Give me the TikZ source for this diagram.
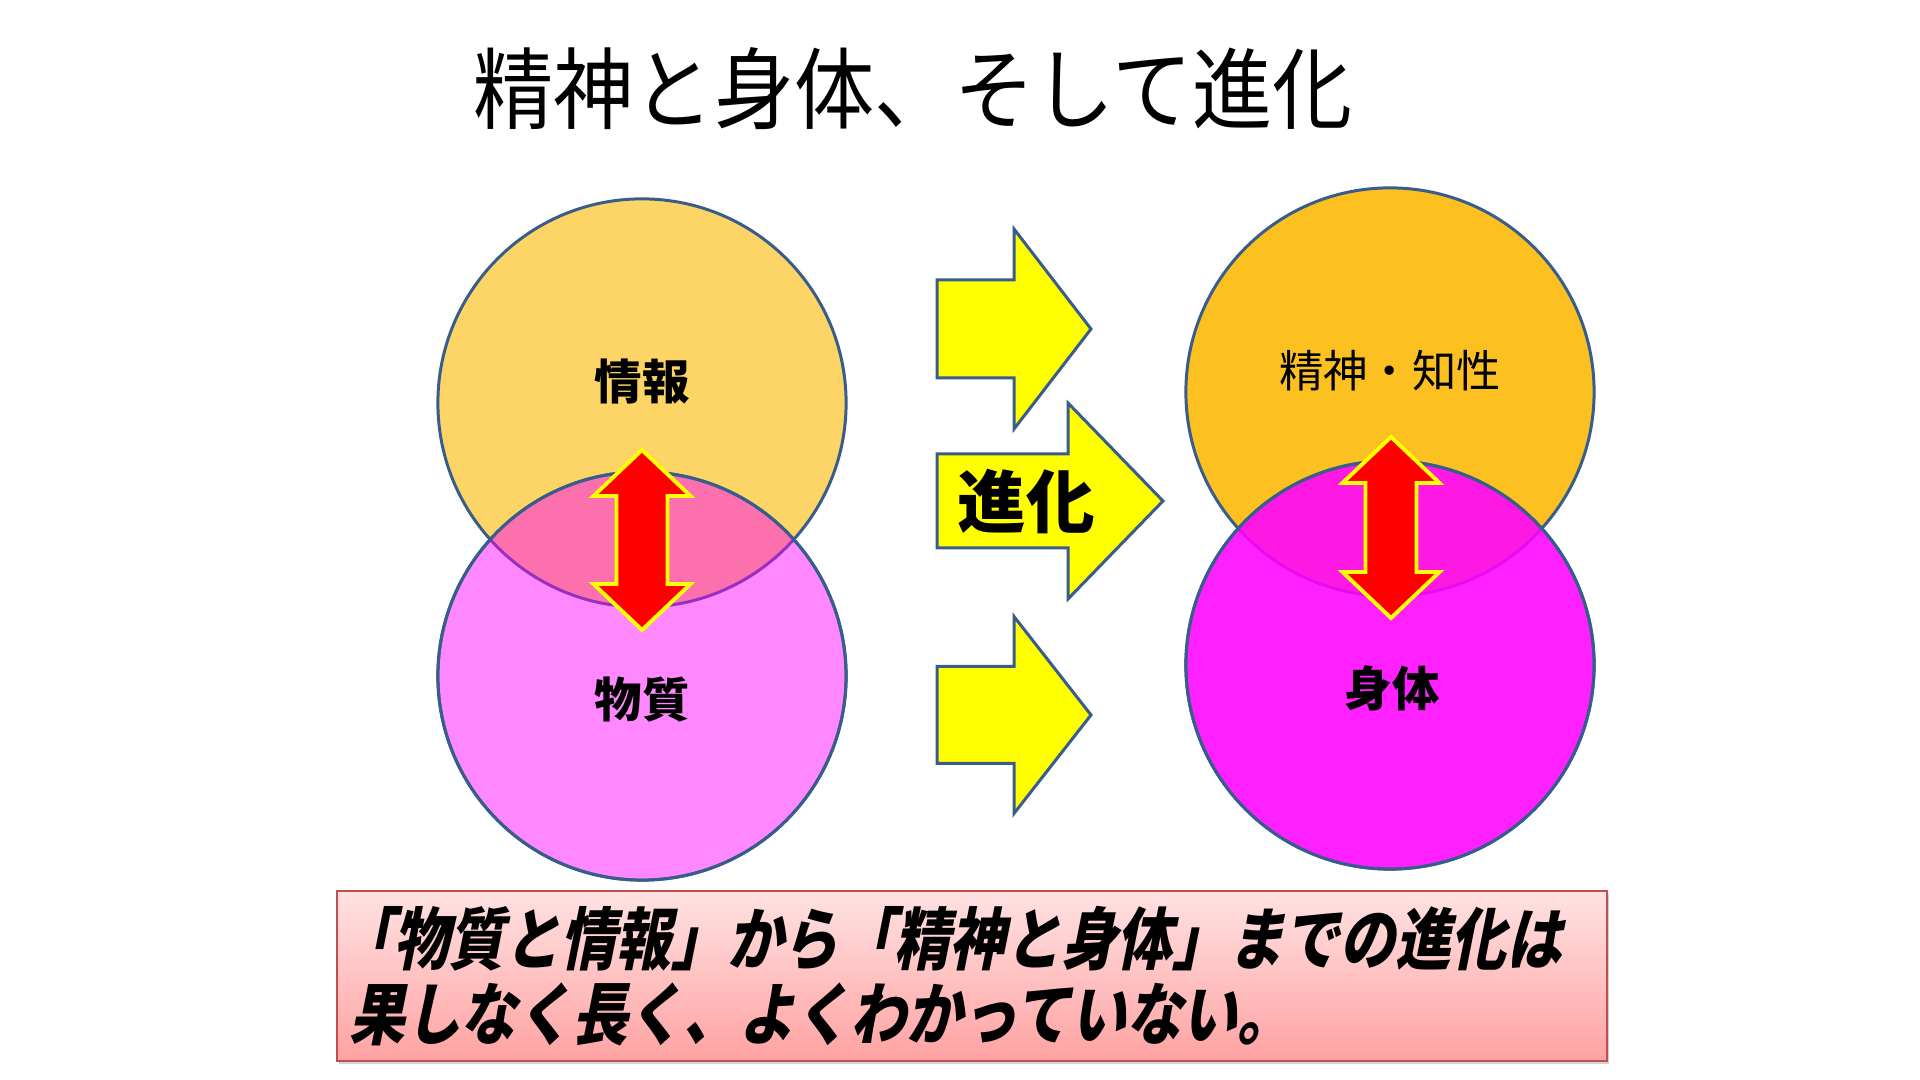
\documentclass[tikz,border=0pt]{standalone}
\usepackage{fontspec}
\usepackage{tikz}
\usetikzlibrary{shadows}
\newfontfamily\jpfont{Noto Sans CJK JP}
\newfontfamily\titlefont[FakeStretch=0.9]{Noto Sans CJK JP}
\newfontfamily\notefont[FakeSlant=0.2,FakeStretch=0.82]{Noto Sans CJK JP}
\definecolor{ringline}{RGB}{56,93,138}
\definecolor{infofill}{RGB}{252,213,102}
\definecolor{mindfill}{RGB}{252,192,32}
\definecolor{bodyfill}{RGB}{255,0,255}
\definecolor{arrfill}{RGB}{255,255,0}
\definecolor{linkfill}{RGB}{255,0,0}
\definecolor{noteline}{RGB}{192,80,77}
\definecolor{notetop}{RGB}{255,226,226}
\definecolor{notebot}{RGB}{255,162,162}

\begin{document}
\begin{tikzpicture}[
    x=0.01cm, y=-0.01cm,
    ring/.style={circle, draw=ringline, line width=0.85pt, minimum size=4.08cm, inner sep=0pt},
    lbl/.style={font=\jpfont\bfseries\fontsize{13.5}{16}\selectfont, inner sep=0pt},
    yarr/.style={draw=ringline, line width=0.85pt, fill=arrfill, line join=miter},
    rarr/.style={draw=arrfill, line width=1.1pt, fill=linkfill, line join=miter},
    notebox/.style={draw=noteline, line width=0.6pt, top color=notetop, bottom color=notebot,
        drop shadow={shadow xshift=0.02cm, shadow yshift=-0.03cm, opacity=0.35},
        minimum width=12.70cm, minimum height=1.70cm, text width=12.44cm, align=left,
        inner xsep=0.13cm, inner ysep=0pt,
        font=\notefont\bfseries\fontsize{19.3}{21.3}\selectfont},
]
\fill[white] (0,0) rectangle (1920,1080);
\useasboundingbox (0,0) rectangle (1920,1080);

% Title
\node[font=\titlefont\fontsize{25.3}{30}\selectfont, inner sep=0pt] (title) at (913,89) {精神と身体、そして進化};

% Left pair
\node[ring, fill=infofill] (info) at (642,403) {};
\node[ring, fill=bodyfill, fill opacity=0.47] (matter) at (642,676) {};
\draw[ring, fill=none, draw=ringline] (matter.center) circle[radius=2.04cm];

% Right pair
\node[ring, fill=mindfill] (mind) at (1390,392) {};
\node[ring, fill=bodyfill, fill opacity=0.875] (body) at (1390,665) {};
\draw[ring, fill=none, draw=ringline] (body.center) circle[radius=2.04cm];

% Red double arrows
\foreach \cx/\ty/\by in {642/450/630, 1391/437/618}
  \draw[rarr] (\cx,\ty) -- ++(48.5,46) -- ++(-23,0) -- (\cx+25.5,\by-46) -- ++(23,0)
    -- (\cx,\by) -- ++(-48.5,-46) -- ++(23,0) -- (\cx-25.5,\ty+46) -- ++(-23,0) -- cycle;

% Labels
\node[lbl] (infolbl) at (642,382) {情報};
\node[lbl] (matterlbl) at (642,700) {物質};
\node[lbl, font=\jpfont\fontsize{12.6}{15}\selectfont] (mindlbl) at (1390,371) {精神・知性};
\node[lbl] (bodylbl) at (1392,688) {身体};

% Yellow arrows
\foreach \ly/\bh/\hx/\hh/\tx in {329/49/1014/100/1091, 501/47/1068/98/1163, 715/48.5/1014/98.5/1091}
  \draw[yarr] (937,\ly-\bh) -- (\hx,\ly-\bh) -- (\hx,\ly-\hh) -- (\tx,\ly) -- (\hx,\ly+\hh)
    -- (\hx,\ly+\bh) -- (937,\ly+\bh) -- cycle;
\node[lbl, font=\jpfont\bfseries\fontsize{19.5}{22}\selectfont] (evolbl) at (1026,502) {進化};

% Note box
\node[notebox] (note) at (972,976) {\hspace{-0.12cm}「物質と情報」から「精神と身体」までの進化は\\果しなく長く、よくわかっていない。};
\end{tikzpicture}
\end{document}
